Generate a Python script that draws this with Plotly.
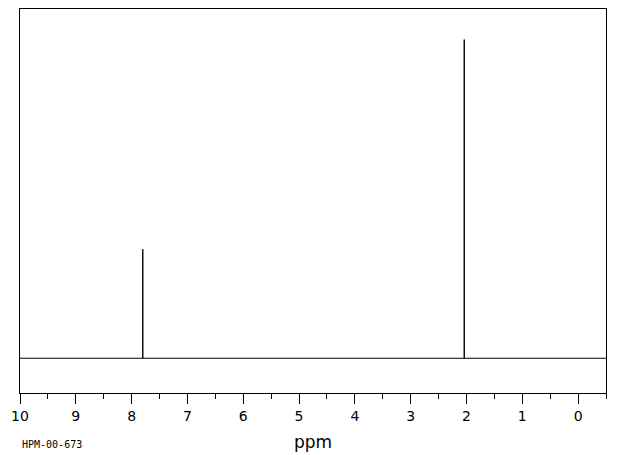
import plotly.graph_objects as go

# Peak data (ppm, relative intensity)
peak_ppm = [7.80, 2.04]
peak_height = [34.2, 100.0]
x_start, x_end = 10.0, -0.5
tick_vals = [10, 9, 8, 7, 6, 5, 4, 3, 2, 1, 0]
tick_text = [str(v) for v in tick_vals]

# Build stick spectrum from the peak lists
xs = [x_start]
ys = [0.0]
for p, h in sorted(zip(peak_ppm, peak_height), key=lambda t: -t[0]):
    xs += [p, p, p]
    ys += [0.0, h, 0.0]
xs.append(x_end)
ys.append(0.0)

fig = go.Figure()
fig.add_trace(go.Scatter(x=xs, y=ys, mode="lines",
                         line=dict(color="black", width=1), hoverinfo="skip",
                         showlegend=False))

# page body has an 8px margin; figure is sized/offset to compensate
fig.update_layout(
    width=612, height=447,
    margin=dict(l=12, r=14, t=1, b=62),
    paper_bgcolor="white", plot_bgcolor="white",
    font=dict(family="DejaVu Sans", color="black"),
    xaxis=dict(range=[10.0, -0.5], showgrid=False, zeroline=False,
               showline=True, linecolor="black", linewidth=1, mirror=True,
               ticks="outside", ticklen=10, tickcolor="black", tickwidth=1,
               tickvals=tick_vals, ticktext=tick_text,
               tickfont=dict(size=14, family="DejaVu Sans"),
               minor=dict(dtick=0.5, tick0=0, ticks="outside", ticklen=5,
                          tickcolor="black", tickwidth=1, showgrid=False)),
    yaxis=dict(range=[-10.9, 109.6], showgrid=False, zeroline=False,
               showline=True, linecolor="black", linewidth=1, mirror=True,
               showticklabels=False, ticks=""),
    annotations=[
        dict(text="ppm", x=0.5, xref="paper", y=-0.1276, yref="paper",
             xanchor="center", yanchor="middle", showarrow=False,
             font=dict(size=17, family="DejaVu Sans")),
        dict(text="HPM-00-673", x=0.0, xref="paper",
             y=-0.135, yref="paper", xanchor="left", yanchor="middle",
             showarrow=False, font=dict(size=10, family="DejaVu Sans Mono")),
    ],
)

fig.write_html("out.html")
